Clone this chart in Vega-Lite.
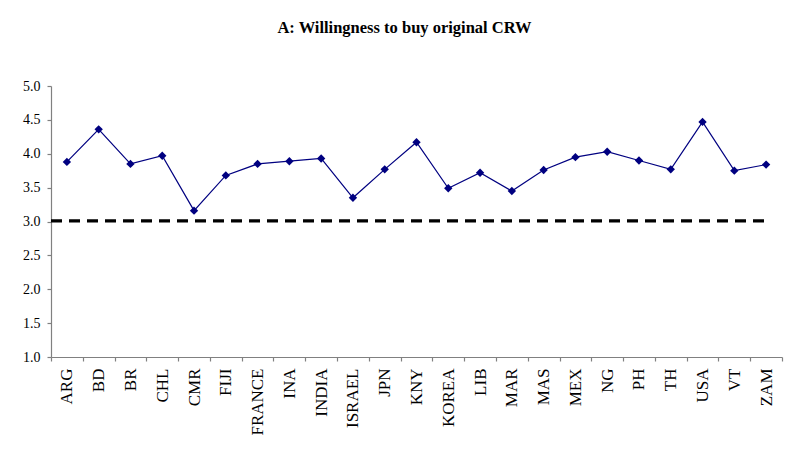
{
  "$schema": "https://vega.github.io/schema/vega-lite/v6.json",
  "width": 731,
  "height": 271,
  "autosize": {"type": "none"},
  "padding": {"left": 51, "top": 86, "right": 11, "bottom": 107},
  "background": "white",
  "config": {
    "view": {"stroke": null},
    "font": "Liberation Serif",
    "axis": {
      "grid": false,
      "title": null,
      "labelFont": "Liberation Serif",
      "labelColor": "black",
      "domainColor": "#808080",
      "tickColor": "#808080",
      "domainWidth": 1.2,
      "tickWidth": 1.2,
      "tickSize": 4
    }
  },
  "title": {
    "text": "A: Willingness to buy original CRW",
    "font": "Liberation Serif",
    "fontSize": 16.5,
    "fontWeight": "bold",
    "color": "black",
    "anchor": "middle",
    "dx": -12,
    "offset": 43
  },
  "datasets": {
    "scores": [
      {"country": "ARG", "value": 3.88},
      {"country": "BD", "value": 4.36},
      {"country": "BR", "value": 3.85},
      {"country": "CHL", "value": 3.97},
      {"country": "CMR", "value": 3.16},
      {"country": "FIJI", "value": 3.68},
      {"country": "FRANCE", "value": 3.85},
      {"country": "INA", "value": 3.89},
      {"country": "INDIA", "value": 3.93},
      {"country": "ISRAEL", "value": 3.35},
      {"country": "JPN", "value": 3.77},
      {"country": "KNY", "value": 4.17},
      {"country": "KOREA", "value": 3.49},
      {"country": "LIB", "value": 3.72},
      {"country": "MAR", "value": 3.45},
      {"country": "MAS", "value": 3.76},
      {"country": "MEX", "value": 3.95},
      {"country": "NG", "value": 4.03},
      {"country": "PH", "value": 3.90},
      {"country": "TH", "value": 3.77},
      {"country": "USA", "value": 4.47},
      {"country": "VT", "value": 3.75},
      {"country": "ZAM", "value": 3.84}
    ],
    "threshold": [
      {"from": "ARG", "to": "ZAM", "level": 3.01}
    ]
  },
  "layer": [
    {
      "data": {"name": "threshold"},
      "mark": {"type": "rule", "color": "black", "strokeWidth": 3.2, "strokeDash": [11, 7]},
      "encoding": {
        "x": {"field": "from", "type": "nominal", "bandPosition": 0},
        "x2": {"field": "to"},
        "y": {"field": "level", "type": "quantitative"}
      }
    },
    {
      "data": {"name": "scores"},
      "mark": {"type": "line", "color": "#000080", "strokeWidth": 1.2},
      "encoding": {
        "x": {"field": "country", "type": "nominal", "bandPosition": 0.5},
        "y": {"field": "value", "type": "quantitative"}
      }
    },
    {
      "data": {"name": "scores"},
      "mark": {"type": "point", "shape": "diamond", "filled": true, "color": "#000080", "size": 70, "opacity": 1},
      "encoding": {
        "x": {"field": "country", "type": "nominal", "bandPosition": 0.5},
        "y": {"field": "value", "type": "quantitative"}
      }
    }
  ],
  "encoding": {
    "x": {
      "field": "country",
      "type": "nominal",
      "sort": null,
      "scale": {
        "type": "band",
        "paddingInner": 0,
        "paddingOuter": 0,
        "domain": ["ARG", "BD", "BR", "CHL", "CMR", "FIJI", "FRANCE", "INA", "INDIA", "ISRAEL", "JPN", "KNY", "KOREA", "LIB", "MAR", "MAS", "MEX", "NG", "PH", "TH", "USA", "VT", "ZAM"]
      },
      "axis": {"tickBand": "extent", "labelAngle": -90, "labelFontSize": 17, "labelPadding": 7, "labelBaseline": "middle", "labelAlign": "right"}
    },
    "y": {
      "field": "value",
      "type": "quantitative",
      "scale": {"domain": [1, 5], "nice": false, "zero": false},
      "axis": {"values": [1, 1.5, 2, 2.5, 3, 3.5, 4, 4.5, 5], "format": ".1f", "labelFontSize": 14, "labelPadding": 7}
    }
  }
}
